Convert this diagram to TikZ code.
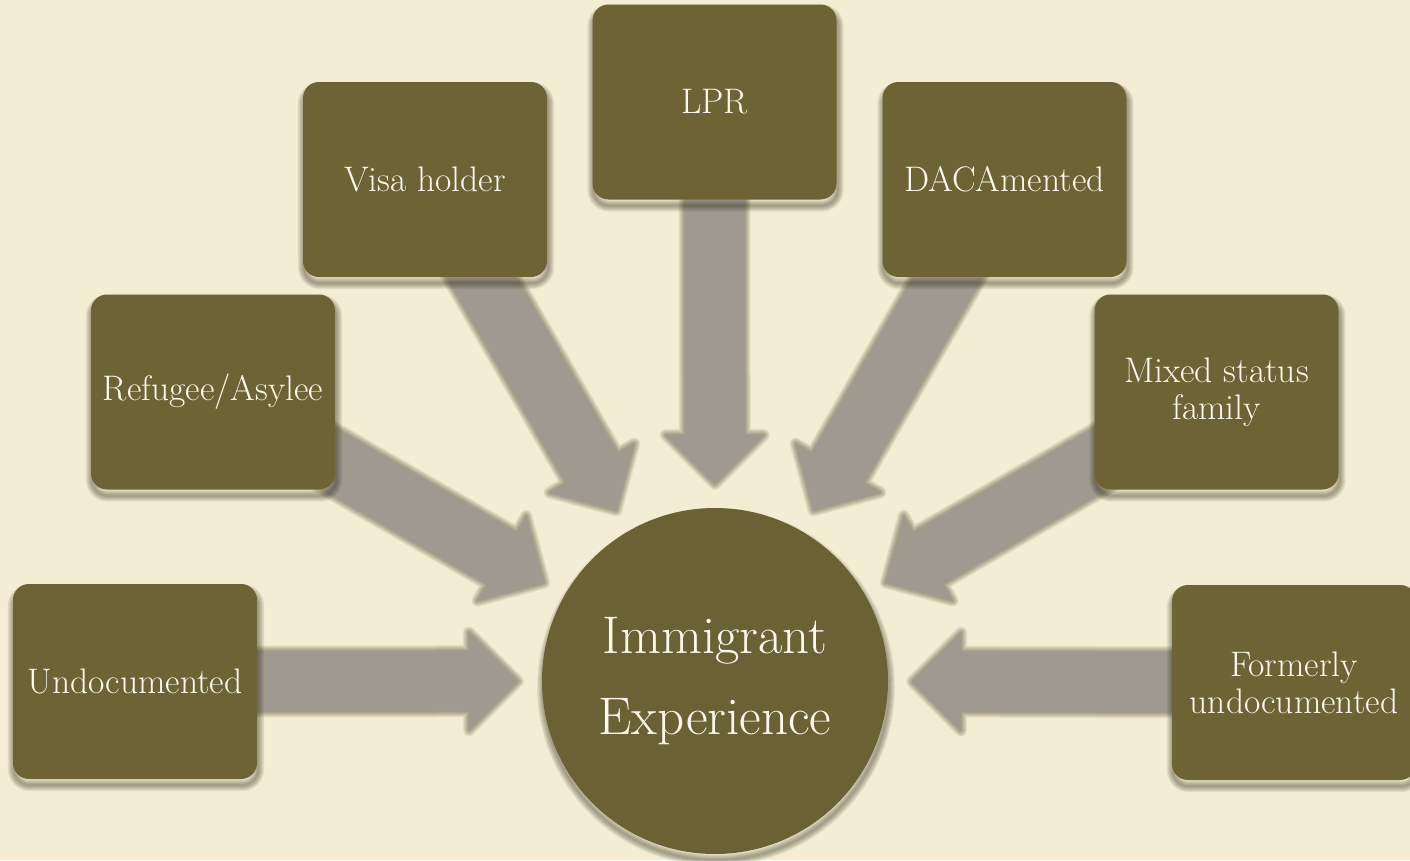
\documentclass[tikz,border=0pt]{standalone}
\usepackage{fontspec}
\usetikzlibrary{calc}
\definecolor{bgcream}{HTML}{F2EDD3}
\definecolor{boxolive}{HTML}{6D6335}
\definecolor{circolive}{HTML}{6A6134}
\definecolor{arrowgray}{HTML}{9E9A8F}
\definecolor{txtwhite}{HTML}{FBF8EE}
\definecolor{shadowcol}{HTML}{2E2A14}
\pgfdeclarelayer{back}
\pgfdeclarelayer{arrowshadow}
\pgfdeclarelayer{arrowlayer}
\pgfdeclarelayer{boxshadow}
\pgfsetlayers{back,arrowshadow,arrowlayer,boxshadow,main}
\tikzset{
  statusbox/.style={rounded corners=16pt, fill=boxolive, minimum width=244pt, minimum height=195pt,
    text=txtwhite, font=\fontsize{35.5}{37}\selectfont, align=center, inner sep=0pt},
  centrecircle/.style={circle, fill=circolive, minimum size=346pt, inner sep=0pt,
    text=txtwhite, font=\fontsize{53}{81}\selectfont, align=center},
  fatarrowstyle/.style={fill=arrowgray},
  softedge/.style={draw=shadowcol, draw opacity=0.08, line join=round, line width=#1}
}
% polygon of a broad arrow from node #1 towards its tip
\newcommand\arrowpoly[1]{($(#1.center)!30pt!90:(#1-tip)$) -- ($(#1-base)!30pt!90:(#1-tip)$)
    -- ($(#1-base)!49pt!90:(#1-tip)$) -- (#1-tip) -- ($(#1-base)!49pt!-90:(#1-tip)$)
    -- ($(#1-base)!30pt!-90:(#1-tip)$) -- ($(#1.center)!30pt!-90:(#1-tip)$) -- cycle}
\newcommand\fatarrow[2]{%
  \coordinate (#1-tip) at ($(#2.center)!197pt!(#1.center)$);
  \coordinate (#1-base) at ($(#1-tip)!49pt!(#1.center)$);
  \begin{pgfonlayer}{arrowshadow}
    \foreach \w in {2,4,...,12}
      \draw[softedge=\w pt, shift={(1,6)}] \arrowpoly{#1};
  \end{pgfonlayer}
  \begin{pgfonlayer}{arrowlayer}
    \fill[fatarrowstyle] \arrowpoly{#1};
  \end{pgfonlayer}
}
\newcommand\boxshadow[1]{%
  \begin{pgfonlayer}{boxshadow}
    \foreach \w in {2,4,...,12}
      \draw[softedge=\w pt, rounded corners=16pt] ($(#1.south west)+(1,6)$) rectangle ($(#1.north east)+(1,6)$);
  \end{pgfonlayer}
}
\begin{document}
\begin{tikzpicture}[x=1pt,y=-1pt]
  \useasboundingbox (0,0) rectangle (1410,860);
  \begin{pgfonlayer}{back}
    \fill[bgcream] (0,0) rectangle (1410,860);
  \end{pgfonlayer}

  \node[centrecircle] (ie) at (715,681) {Immigrant\\Experience};

  \node[statusbox] (undoc) at (135,681.5) {Undocumented};
  \node[statusbox] (refugee) at (213,392) {Refugee/Asylee};
  \node[statusbox] (visa) at (425,179.5) {Visa holder};
  \node[statusbox] (lpr) at (714.5,102) {LPR};
  \node[statusbox] (daca) at (1004.5,179.5) {DACAmented};
  \node[statusbox] (mixed) at (1216.5,392) {Mixed status\\family};
  \node[statusbox] (former) at (1294,682.5) {Formerly\\undocumented};

  \foreach \b in {undoc,refugee,visa,lpr,daca,mixed,former} {\boxshadow{\b}}
  \begin{pgfonlayer}{boxshadow}
    \foreach \w in {2,4,...,12}
      \draw[softedge=\w pt] ($(ie.center)+(1,6)$) circle (173pt);
  \end{pgfonlayer}

  \fatarrow{undoc}{ie}
  \fatarrow{refugee}{ie}
  \fatarrow{visa}{ie}
  \fatarrow{lpr}{ie}
  \fatarrow{daca}{ie}
  \fatarrow{mixed}{ie}
  \fatarrow{former}{ie}
\end{tikzpicture}
\end{document}
